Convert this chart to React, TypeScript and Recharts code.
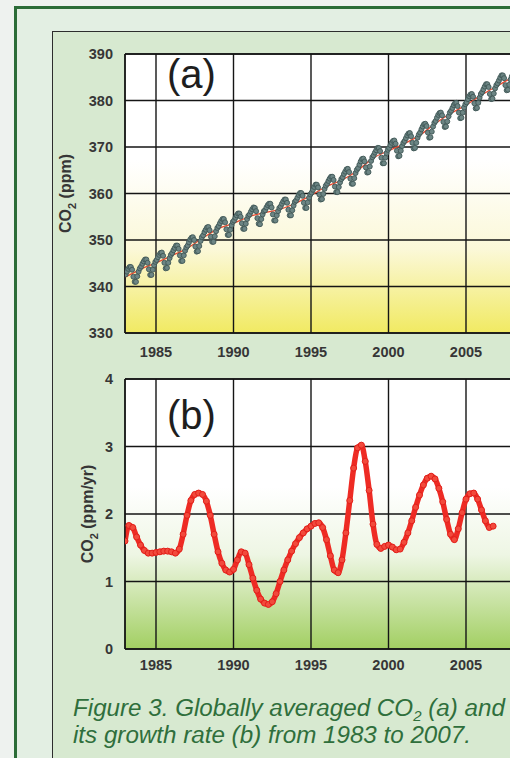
import React from 'react';
import { ComposedChart, Line, XAxis, YAxis, CartesianGrid } from 'recharts';

// monthly globally averaged CO2 (ppm), Jan 1983 .. Dec 2007
const CO2_START = 1983;
const co2Monthly = [
  342.6, 343.2, 343.8, 344.2, 344.2, 343.6, 342.1, 341.0, 341.0, 342.2, 343.2, 343.9,
  344.3, 344.9, 345.4, 345.8, 345.8, 345.1, 343.7, 342.5, 342.5, 343.6, 344.6, 345.3,
  345.7, 346.3, 346.8, 347.2, 347.3, 346.6, 345.1, 343.9, 344.0, 345.1, 346.1, 346.8,
  347.2, 347.8, 348.3, 348.8, 348.8, 348.1, 346.7, 345.5, 345.5, 346.7, 347.7, 348.4,
  348.8, 349.5, 350.1, 350.5, 350.6, 350.0, 348.6, 347.5, 347.6, 348.7, 349.8, 350.6,
  351.0, 351.7, 352.2, 352.7, 352.8, 352.1, 350.7, 349.6, 349.6, 350.8, 351.9, 352.6,
  353.0, 353.6, 354.1, 354.5, 354.5, 353.8, 352.3, 351.1, 351.1, 352.2, 353.2, 353.9,
  354.2, 354.8, 355.3, 355.7, 355.7, 355.0, 353.6, 352.4, 352.4, 353.5, 354.5, 355.2,
  355.5, 356.1, 356.6, 357.0, 356.9, 356.2, 354.7, 353.5, 353.4, 354.5, 355.5, 356.2,
  356.4, 357.0, 357.5, 357.8, 357.8, 357.0, 355.5, 354.2, 354.2, 355.3, 356.2, 356.9,
  357.2, 357.8, 358.3, 358.7, 358.7, 358.0, 356.5, 355.3, 355.3, 356.4, 357.4, 358.2,
  358.5, 359.1, 359.7, 360.1, 360.1, 359.5, 358.0, 356.9, 356.9, 358.1, 359.1, 359.8,
  360.2, 360.8, 361.4, 361.9, 361.9, 361.3, 359.8, 358.7, 358.8, 359.9, 361.0, 361.7,
  362.1, 362.7, 363.2, 363.6, 363.6, 362.9, 361.5, 360.3, 360.3, 361.4, 362.4, 363.1,
  363.5, 364.2, 364.7, 365.2, 365.3, 364.6, 363.2, 362.1, 362.1, 363.3, 364.4, 365.1,
  365.5, 366.2, 366.9, 367.4, 367.5, 366.9, 365.6, 364.5, 364.6, 365.8, 367.0, 367.8,
  368.2, 368.8, 369.3, 369.8, 369.8, 369.1, 367.7, 366.5, 366.5, 367.7, 368.7, 369.4,
  369.8, 370.4, 370.9, 371.3, 371.4, 370.7, 369.2, 368.0, 368.1, 369.2, 370.2, 370.9,
  371.3, 371.9, 372.5, 372.9, 373.0, 372.3, 370.9, 369.7, 369.8, 370.9, 372.0, 372.7,
  373.1, 373.8, 374.4, 374.9, 375.0, 374.5, 373.1, 372.0, 372.1, 373.3, 374.4, 375.2,
  375.6, 376.3, 376.9, 377.3, 377.4, 376.8, 375.4, 374.3, 374.4, 375.5, 376.6, 377.4,
  377.8, 378.4, 379.0, 379.4, 379.5, 378.8, 377.4, 376.2, 376.3, 377.4, 378.5, 379.2,
  379.6, 380.3, 380.9, 381.3, 381.4, 380.8, 379.4, 378.3, 378.4, 379.5, 380.6, 381.4,
  381.8, 382.4, 383.0, 383.5, 383.5, 382.9, 381.4, 380.3, 380.4, 381.5, 382.6, 383.3,
  383.7, 384.3, 384.9, 385.4, 385.4, 384.8, 383.3, 382.2, 382.3, 383.4, 384.5, 385.2,
];

// deseasonalised trend (red line), start of each year
const trendYears = [1983, 1984, 1985, 1986, 1987, 1988, 1989, 1990, 1991, 1992, 1993, 1994, 1995,
  1996, 1997, 1998, 1999, 2000, 2001, 2002, 2003, 2004, 2005, 2006, 2007, 2008];
const trendValues = [342.0, 343.7, 345.1, 346.6, 348.2, 350.4, 352.4, 353.6, 355.0, 355.9, 356.6, 357.9, 359.6,
  361.5, 362.9, 364.9, 367.6, 369.2, 370.7, 372.5, 375.0, 377.2, 379.0, 381.2, 383.1, 385.0];

// growth rate (ppm/yr), quarterly from 1983.0
const GROWTH_START = 1983;
const GROWTH_STEP = 0.25;
const growthRates = [
  1.60, 1.83, 1.80, 1.66, 1.54, 1.46, 1.42, 1.42, 1.43, 1.44, 1.45, 1.45,
  1.44, 1.42, 1.48, 1.70, 1.98, 2.20, 2.29, 2.31, 2.29, 2.19, 1.98, 1.70,
  1.44, 1.27, 1.17, 1.14, 1.18, 1.32, 1.44, 1.42, 1.25, 1.05, 0.87, 0.74,
  0.68, 0.66, 0.70, 0.82, 1.00, 1.17, 1.32, 1.45, 1.56, 1.65, 1.72, 1.78,
  1.82, 1.86, 1.87, 1.80, 1.62, 1.38, 1.17, 1.13, 1.32, 1.72, 2.20, 2.68,
  2.98, 3.02, 2.78, 2.35, 1.85, 1.55, 1.49, 1.52, 1.54, 1.51, 1.47, 1.48,
  1.58, 1.72, 1.90, 2.10, 2.28, 2.43, 2.53, 2.56, 2.52, 2.38, 2.18, 1.92,
  1.70, 1.62, 1.78, 2.02, 2.22, 2.30, 2.31, 2.22, 2.06, 1.90, 1.80, 1.82,
];

const co2Ticks = [330, 340, 350, 360, 370, 380, 390];
const rateTicks = [0, 1, 2, 3, 4];
const majorYears = [1985, 1990, 1995, 2000, 2005];
const minorYears = [1983, 1984, 1985, 1986, 1987, 1988, 1989, 1990, 1991, 1992, 1993, 1994, 1995, 1996,
  1997, 1998, 1999, 2000, 2001, 2002, 2003, 2004, 2005, 2006, 2007, 2008, 2009, 2010];
const X_DOMAIN: [number, number] = [1983, 2010];

const co2Data = co2Monthly.map((v, i) => ({ year: CO2_START + (i + 0.5) / 12, co2: v }));
const trendData = trendYears.map((y, i) => ({ year: y, trend: trendValues[i] }));
const growthData = growthRates.map((v, i) => ({ year: GROWTH_START + i * GROWTH_STEP, rate: v }));

const FONT = '"Liberation Sans", Arial, Helvetica, sans-serif';
const tickStyle = { fontSize: 14.5, fill: '#363636', fontWeight: 'bold', fontFamily: FONT };
const INK = '#151515';

const AxisTitle: React.FC<any> = ({ viewBox, unit, cx }) => {
  const cy = viewBox.y + viewBox.height / 2;
  return (
    <text
      x={cx}
      y={cy}
      transform={`rotate(-90 ${cx} ${cy})`}
      textAnchor="middle"
      fontSize={16}
      fontWeight="bold"
      fill="#363636"
      fontFamily={FONT}
    >
      CO<tspan dy={5} fontSize={11}>2</tspan>
      <tspan dy={-5}> {unit}</tspan>
    </text>
  );
};

const App: React.FC = () => {
  return (
    <div
      style={{
        position: 'fixed',
        left: 0,
        top: 0,
        width: 510,
        height: 758,
        overflow: 'hidden',
        background: '#eef2ef',
        fontFamily: FONT,
      }}
    >
      <div
        style={{
          position: 'absolute',
          left: 14,
          top: 6,
          width: 700,
          height: 900,
          border: '3px solid #2b6c37',
          background: '#e3efe3',
        }}
      />
      <div
        style={{
          position: 'absolute',
          left: 52,
          top: 31,
          width: 700,
          height: 900,
          border: '1.5px solid #2d2d2d',
          background: '#d7e9d0',
        }}
      />

      <div style={{ position: 'absolute', left: 0, top: 0 }}>
        <ComposedChart width={600} height={370} margin={{ top: 54, right: 56.5, left: 65, bottom: 7 }}>
          <defs>
            <linearGradient id="gradA" x1="0" y1="0" x2="0" y2="1">
              <stop offset="0%" stopColor="#ffffff" />
              <stop offset="38%" stopColor="#ffffff" />
              <stop offset="70%" stopColor="#fbf8d8" />
              <stop offset="100%" stopColor="#f1ea62" />
            </linearGradient>
          </defs>
          <CartesianGrid fill="url(#gradA)" stroke={INK} strokeWidth={1.4} verticalPoints={undefined} />
          <XAxis
            dataKey="year"
            type="number"
            domain={X_DOMAIN}
            ticks={majorYears}
            allowDataOverflow
            tickLine={false}
            tickSize={0}
            tickMargin={14}
            axisLine={{ stroke: INK, strokeWidth: 1.4 }}
            tick={tickStyle}
          />
          <XAxis
            xAxisId="top"
            orientation="top"
            mirror
            dataKey="year"
            type="number"
            domain={X_DOMAIN}
            ticks={minorYears}
            tick={false}
            tickSize={4}
            tickLine={{ stroke: INK, strokeWidth: 1.2 }}
            axisLine={{ stroke: INK, strokeWidth: 1.4 }}
          />
          <XAxis
            xAxisId="minor"
            orientation="bottom"
            mirror
            dataKey="year"
            type="number"
            domain={X_DOMAIN}
            ticks={minorYears}
            tick={false}
            tickSize={4}
            tickLine={{ stroke: INK, strokeWidth: 1.2 }}
            axisLine={false}
          />
          <YAxis
            type="number"
            domain={[330, 390]}
            ticks={co2Ticks}
            width={60}
            tickLine={false}
            tickSize={0}
            tickMargin={12}
            axisLine={{ stroke: INK, strokeWidth: 1.4 }}
            tick={tickStyle}
            label={<AxisTitle unit="(ppm)" cx={71} />}
          />
          <Line
            data={co2Data}
            dataKey="co2"
            stroke="none"
            dot={{ r: 2.5, fill: '#6c8584', stroke: '#405756', strokeWidth: 0.9 }}
            isAnimationActive={false}
          />
          <Line
            data={trendData}
            dataKey="trend"
            type="monotone"
            stroke="#e8482e"
            strokeWidth={1.3}
            dot={false}
            isAnimationActive={false}
          />
        </ComposedChart>
      </div>

      <div style={{ position: 'absolute', left: 0, top: 360 }}>
        <ComposedChart width={600} height={330} margin={{ top: 19, right: 56.5, left: 65, bottom: 11 }}>
          <defs>
            <linearGradient id="gradB" x1="0" y1="0" x2="0" y2="1">
              <stop offset="0%" stopColor="#ffffff" />
              <stop offset="40%" stopColor="#ffffff" />
              <stop offset="65%" stopColor="#eef6e4" />
              <stop offset="100%" stopColor="#a2cf62" />
            </linearGradient>
          </defs>
          <CartesianGrid fill="url(#gradB)" stroke={INK} strokeWidth={1.4} />
          <XAxis
            dataKey="year"
            type="number"
            domain={X_DOMAIN}
            ticks={majorYears}
            allowDataOverflow
            tickLine={false}
            tickSize={0}
            tickMargin={11}
            axisLine={{ stroke: INK, strokeWidth: 1.4 }}
            tick={tickStyle}
          />
          <XAxis
            xAxisId="top"
            orientation="top"
            mirror
            dataKey="year"
            type="number"
            domain={X_DOMAIN}
            ticks={minorYears}
            tick={false}
            tickSize={4}
            tickLine={{ stroke: INK, strokeWidth: 1.2 }}
            axisLine={{ stroke: INK, strokeWidth: 1.4 }}
          />
          <XAxis
            xAxisId="minor"
            orientation="bottom"
            mirror
            dataKey="year"
            type="number"
            domain={X_DOMAIN}
            ticks={minorYears}
            tick={false}
            tickSize={4}
            tickLine={{ stroke: INK, strokeWidth: 1.2 }}
            axisLine={false}
          />
          <YAxis
            type="number"
            domain={[0, 4]}
            ticks={rateTicks}
            width={60}
            tickLine={false}
            tickSize={0}
            tickMargin={12}
            axisLine={{ stroke: INK, strokeWidth: 1.4 }}
            tick={tickStyle}
            label={<AxisTitle unit="(ppm/yr)" cx={93} />}
          />
          <Line
            data={growthData}
            dataKey="rate"
            type="monotone"
            stroke="#ee2b24"
            strokeWidth={5.5}
            dot={{ r: 3, fill: '#f24a3c', stroke: '#e21f1a', strokeWidth: 1 }}
            isAnimationActive={false}
          />
        </ComposedChart>
      </div>

      <svg width={510} height={758} style={{ position: 'absolute', left: 0, top: 0, pointerEvents: 'none' }}>
        <text x={167} y={88} fontSize={40} fill="#1e1e1e" fontFamily={FONT}>(a)</text>
        <text x={167} y={429} fontSize={40} fill="#1e1e1e" fontFamily={FONT}>(b)</text>
        <text x={73} y={716} fontSize={24.2} fontStyle="italic" fill="#2f6f3c" fontFamily={FONT}>
          Figure 3. Globally averaged CO<tspan dy={5} fontSize={15}>2</tspan>
          <tspan dy={-5}> (a) and</tspan>
        </text>
        <text x={73} y={743} fontSize={24.2} fontStyle="italic" fill="#2f6f3c" fontFamily={FONT}>
          its growth rate (b) from 1983 to 2007.
        </text>
      </svg>
    </div>
  );
};

export default App;
